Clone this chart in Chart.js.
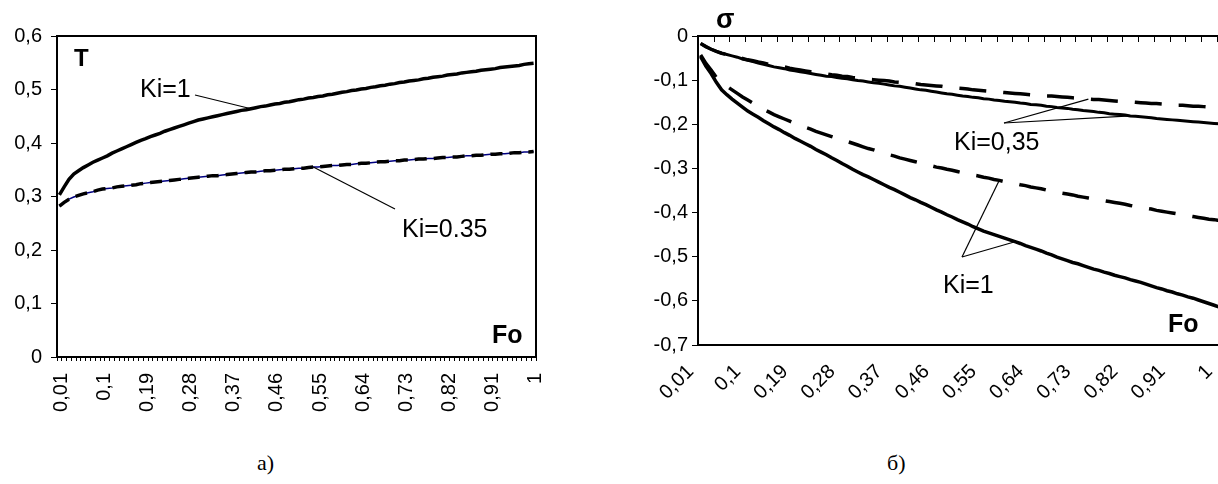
<!DOCTYPE html>
<html>
<head>
<meta charset="utf-8">
<script src="https://cdn.jsdelivr.net/npm/chart.js@4.4.1/dist/chart.umd.min.js"></script>
<style>
html, body { margin: 0; padding: 0; background: #fff; width: 1218px; height: 484px; overflow: hidden; position: relative; }
canvas { position: absolute; top: 0; }
#c1 { left: 0; }
#c2 { left: 620px; }
.cap { position: absolute; top: 450px; font: 22px "Liberation Serif", "Times New Roman", serif; color: #000; }
</style>
</head>
<body>
<canvas id="c1" width="600" height="440"></canvas>
<canvas id="c2" width="620" height="440"></canvas>
<div class="cap" style="left:257px">а)</div>
<div class="cap" style="left:887px">б)</div>
<script>
// Fo categories (same for both charts)
var foLabels = ['0,01','0,02','0,03','0,04','0,05','0,06','0,07','0,08','0,09','0,1',
  '0,11','0,12','0,13','0,14','0,15','0,16','0,17','0,18','0,19','0,2',
  '0,21','0,22','0,23','0,24','0,25','0,26','0,27','0,28','0,29','0,3',
  '0,31','0,32','0,33','0,34','0,35','0,36','0,37','0,38','0,39','0,4',
  '0,41','0,42','0,43','0,44','0,45','0,46','0,47','0,48','0,49','0,5',
  '0,51','0,52','0,53','0,54','0,55','0,56','0,57','0,58','0,59','0,6',
  '0,61','0,62','0,63','0,64','0,65','0,66','0,67','0,68','0,69','0,7',
  '0,71','0,72','0,73','0,74','0,75','0,76','0,77','0,78','0,79','0,8',
  '0,81','0,82','0,83','0,84','0,85','0,86','0,87','0,88','0,89','0,9',
  '0,91','0,92','0,93','0,94','0,95','0,96','0,97','0,98','0,99','1'];

// a) temperature T
var tKi1 = [.303,.318,.332,.342,.348,.354,.359,.364,.368,.372,
  .376,.381,.385,.389,.393,.397,.401,.405,.408,.412,
  .415,.418,.422,.425,.428,.431,.434,.437,.440,.443,
  .445,.447,.449,.451,.453,.455,.457,.459,.461,.462,
  .464,.466,.468,.469,.471,.473,.474,.476,.477,.479,
  .481,.482,.484,.485,.487,.488,.490,.491,.493,.495,
  .496,.498,.499,.501,.502,.504,.505,.507,.508,.510,
  .511,.513,.514,.516,.517,.518,.520,.521,.523,.524,
  .525,.527,.528,.529,.531,.532,.533,.534,.536,.537,
  .538,.539,.541,.542,.543,.544,.545,.547,.548,.549];
var tKi035 = [.282,.289,.295,.299,.302,.305,.307,.309,.312,.314,
  .315,.316,.318,.319,.320,.321,.322,.324,.325,.326,
  .327,.328,.329,.330,.331,.332,.333,.334,.335,.336,
  .337,.338,.339,.339,.340,.341,.342,.343,.344,.345,
  .346,.346,.347,.348,.348,.349,.350,.351,.351,.352,
  .353,.353,.354,.355,.355,.356,.357,.358,.358,.359,
  .360,.360,.361,.362,.362,.363,.364,.365,.365,.366,
  .367,.367,.368,.368,.369,.370,.370,.371,.371,.372,
  .373,.373,.374,.374,.375,.376,.376,.377,.377,.378,
  .379,.379,.380,.380,.381,.382,.382,.383,.383,.384];

// б) stress sigma
var sKi035Solid = [-.017,-.024,-.030,-.035,-.039,-.042,-.045,-.048,-.052,-.055,
  -.058,-.061,-.064,-.067,-.070,-.072,-.074,-.077,-.079,-.081,
  -.083,-.085,-.087,-.089,-.091,-.092,-.094,-.096,-.097,-.099,
  -.101,-.102,-.104,-.106,-.107,-.109,-.111,-.113,-.114,-.116,
  -.118,-.120,-.122,-.123,-.125,-.127,-.129,-.131,-.132,-.134,
  -.136,-.137,-.139,-.140,-.142,-.143,-.145,-.146,-.148,-.149,
  -.150,-.152,-.153,-.155,-.156,-.157,-.159,-.160,-.162,-.163,
  -.164,-.166,-.167,-.169,-.170,-.171,-.173,-.174,-.176,-.177,
  -.178,-.179,-.181,-.182,-.183,-.184,-.185,-.187,-.188,-.189,
  -.190,-.191,-.192,-.193,-.194,-.195,-.196,-.197,-.198,-.199];
var sKi035Dash = [-.017,-.024,-.030,-.035,-.039,-.042,-.045,-.048,-.051,-.054,
  -.056,-.059,-.061,-.064,-.066,-.068,-.070,-.073,-.075,-.077,
  -.079,-.081,-.083,-.084,-.086,-.088,-.089,-.091,-.092,-.094,
  -.095,-.096,-.098,-.099,-.100,-.101,-.102,-.104,-.105,-.106,
  -.107,-.108,-.110,-.111,-.112,-.113,-.114,-.116,-.117,-.118,
  -.119,-.120,-.122,-.123,-.124,-.125,-.126,-.127,-.128,-.129,
  -.130,-.131,-.132,-.133,-.134,-.135,-.136,-.136,-.137,-.138,
  -.139,-.140,-.141,-.142,-.143,-.144,-.144,-.145,-.146,-.147,
  -.148,-.149,-.149,-.150,-.151,-.152,-.153,-.153,-.154,-.155,
  -.156,-.157,-.157,-.158,-.159,-.159,-.160,-.161,-.161,-.162];
var sKi1Dash = [-.043,-.062,-.077,-.094,-.105,-.114,-.122,-.130,-.138,-.145,
  -.152,-.159,-.166,-.172,-.178,-.183,-.188,-.193,-.198,-.203,
  -.207,-.211,-.216,-.220,-.224,-.228,-.232,-.235,-.239,-.243,
  -.247,-.251,-.255,-.258,-.262,-.265,-.269,-.272,-.276,-.279,
  -.282,-.285,-.288,-.291,-.294,-.297,-.299,-.302,-.304,-.307,
  -.310,-.312,-.315,-.317,-.320,-.322,-.325,-.327,-.330,-.332,
  -.334,-.337,-.339,-.342,-.344,-.346,-.349,-.351,-.354,-.356,
  -.358,-.360,-.363,-.365,-.367,-.369,-.371,-.373,-.375,-.377,
  -.379,-.381,-.384,-.386,-.388,-.390,-.392,-.395,-.397,-.399,
  -.401,-.403,-.405,-.407,-.409,-.411,-.413,-.415,-.416,-.418];
var sKi1Solid = [-.047,-.068,-.085,-.105,-.122,-.133,-.143,-.152,-.161,-.170,
  -.177,-.184,-.192,-.199,-.206,-.212,-.219,-.225,-.232,-.238,
  -.244,-.250,-.257,-.263,-.269,-.276,-.282,-.289,-.295,-.302,
  -.308,-.314,-.319,-.325,-.331,-.337,-.343,-.348,-.354,-.360,
  -.366,-.371,-.377,-.382,-.388,-.394,-.399,-.405,-.410,-.416,
  -.421,-.426,-.432,-.437,-.442,-.446,-.450,-.454,-.458,-.462,
  -.466,-.470,-.475,-.479,-.483,-.487,-.492,-.496,-.501,-.505,
  -.509,-.513,-.516,-.520,-.524,-.528,-.531,-.535,-.538,-.542,
  -.545,-.548,-.552,-.555,-.558,-.562,-.566,-.570,-.573,-.577,
  -.580,-.584,-.587,-.591,-.594,-.598,-.602,-.606,-.610,-.614];

var FONT = '"Liberation Sans", Arial, sans-serif';
Chart.defaults.font.family = FONT;
Chart.defaults.color = '#000';

function fmt(v) {
  if (Math.abs(v) < 1e-9) return '0';
  return v.toFixed(1).replace('.', ',');
}
function xLabel(v, i) {
  return i % 9 === 0 ? foLabels[i] : '';
}
function line(ctx, x1, y1, x2, y2) {
  ctx.beginPath();
  ctx.moveTo(x1, y1);
  ctx.lineTo(x2, y2);
  ctx.stroke();
}
function series(data, color, width, dash) {
  return {
    data: data,
    borderColor: color,
    borderWidth: width,
    borderDash: dash || [],
    pointRadius: 0,
    tension: 0,
    fill: false
  };
}

var leftDecor = {
  id: 'leftDecor',
  afterDraw: function (chart) {
    var ctx = chart.ctx, a = chart.chartArea, x = chart.scales.x, y = chart.scales.y;
    ctx.save();
    ctx.strokeStyle = '#000';
    ctx.lineWidth = 2;
    ctx.strokeRect(a.left, a.top, a.right - a.left, a.bottom - a.top);
    ctx.fillStyle = '#000';
    ctx.font = 'bold 24px ' + FONT;
    ctx.fillText('T', a.left + 17, a.top + 30);
    ctx.font = 'bold 25px ' + FONT;
    ctx.fillText('Fo', a.right - 44, a.bottom - 14);
    ctx.font = '25px ' + FONT;
    ctx.fillText('Ki=1', 140, 97);
    ctx.fillText('Ki=0.35', 402, 237);
    ctx.lineWidth = 1.2;
    line(ctx, 195, 95, x.getPixelForValue(40), y.getPixelForValue(tKi1[40]));
    line(ctx, 395, 209, x.getPixelForValue(53), y.getPixelForValue(tKi035[53]));
    ctx.restore();
  }
};

var rightDecor = {
  id: 'rightDecor',
  afterDraw: function (chart) {
    var ctx = chart.ctx, a = chart.chartArea, x = chart.scales.x, y = chart.scales.y;
    ctx.save();
    ctx.strokeStyle = '#000';
    ctx.lineWidth = 2;
    ctx.strokeRect(a.left, a.top, a.right - a.left, a.bottom - a.top);
    ctx.lineWidth = 1;
    for (var k = 0; k <= foLabels.length; k += 3) {
      var px = Math.round(x.getPixelForValue(k - 0.5)) + 0.5;
      line(ctx, px, a.top, px, a.top + 6);
    }
    ctx.fillStyle = '#000';
    ctx.font = 'bold 27px ' + FONT;
    ctx.fillText('σ', 96, 28);
    ctx.font = 'bold 25px ' + FONT;
    ctx.fillText('Fo', 548, 332);
    ctx.font = '25px ' + FONT;
    ctx.fillText('Ki=0,35', 334, 150);
    ctx.fillText('Ki=1', 323, 293);
    ctx.lineWidth = 1.2;
    line(ctx, 384, 123, x.getPixelForValue(74), y.getPixelForValue(sKi035Dash[74]));
    line(ctx, 384, 123, x.getPixelForValue(82), y.getPixelForValue(sKi035Solid[82]));
    line(ctx, 342, 257, x.getPixelForValue(57), y.getPixelForValue(sKi1Dash[57]));
    line(ctx, 342, 257, x.getPixelForValue(60), y.getPixelForValue(sKi1Solid[60]));
    ctx.restore();
  }
};

new Chart(document.getElementById('c1'), {
  type: 'line',
  data: {
    labels: foLabels,
    datasets: [
      series(tKi035, '#000', 3.5, [12, 7]),
      series(tKi035, '#000080', 1.5),
      series(tKi1, '#000', 3.5)
    ]
  },
  options: {
    responsive: false,
    animation: false,
    layout: { padding: { top: 36, right: 64, left: 0, bottom: 0 } },
    plugins: { legend: { display: false }, tooltip: { enabled: false } },
    scales: {
      x: {
        offset: true,
        grid: { offset: true, drawOnChartArea: false, tickLength: 4, color: '#000' },
        border: { display: false },
        ticks: { autoSkip: false, minRotation: 90, maxRotation: 90, padding: 12, labelOffset: 2, font: { size: 20 }, callback: xLabel },
        afterFit: function (s) { s.height = 83; s.paddingLeft = 0; s.paddingRight = 0; }
      },
      y: {
        min: 0, max: 0.6,
        grid: { drawOnChartArea: false, tickLength: 6, color: '#000' },
        border: { display: false },
        ticks: { stepSize: 0.1, padding: 9, font: { size: 20 }, callback: fmt },
        afterFit: function (s) { s.width = 57; }
      }
    }
  },
  plugins: [leftDecor]
});

new Chart(document.getElementById('c2'), {
  type: 'line',
  data: {
    labels: foLabels,
    datasets: [
      series(sKi035Dash, '#000', 3.5, [27, 17]),
      series(sKi1Dash, '#000', 3.5, [27, 17]),
      series(sKi035Solid, '#000', 3),
      series(sKi1Solid, '#000', 3.5)
    ]
  },
  options: {
    responsive: false,
    animation: false,
    layout: { padding: { top: 36, right: 18, left: 0, bottom: 0 } },
    plugins: { legend: { display: false }, tooltip: { enabled: false } },
    scales: {
      x: {
        offset: true,
        grid: { display: false, drawTicks: false },
        border: { display: false },
        ticks: { autoSkip: false, minRotation: 45, maxRotation: 45, padding: 15, labelOffset: -10, font: { size: 20 }, callback: xLabel },
        afterFit: function (s) { s.height = 95; s.paddingLeft = 0; s.paddingRight = 0; }
      },
      y: {
        min: -0.7, max: 0,
        grid: { drawOnChartArea: false, tickLength: 6, color: '#000' },
        border: { display: false },
        ticks: { stepSize: 0.1, padding: 4, font: { size: 20 }, callback: fmt },
        afterFit: function (s) { s.width = 78; }
      }
    }
  },
  plugins: [rightDecor]
});
</script>
</body>
</html>
